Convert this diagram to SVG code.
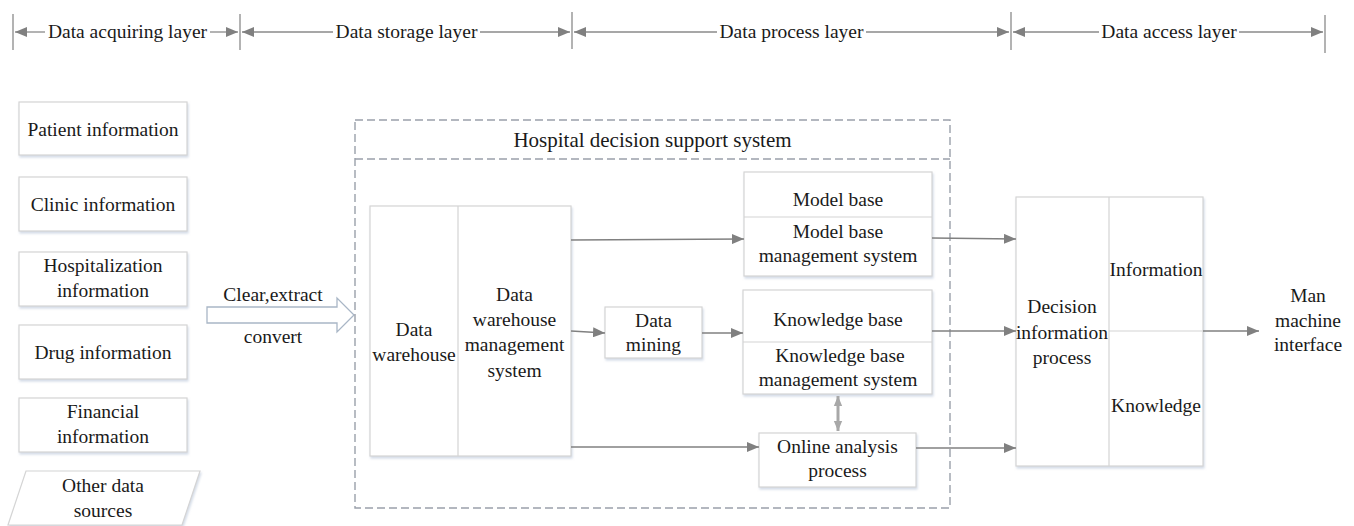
<svg xmlns="http://www.w3.org/2000/svg" width="1354" height="526" viewBox="0 0 1354 526">
<defs>
<marker id="ah" viewBox="0 0 12 10" refX="12" refY="5" markerWidth="12" markerHeight="10" markerUnits="userSpaceOnUse" orient="auto-start-reverse"><path d="M0,0 L12,5 L0,10 z" fill="#808080"/></marker>
<marker id="ahl" viewBox="0 0 12 10" refX="12" refY="5" markerWidth="10" markerHeight="10" markerUnits="userSpaceOnUse" orient="auto-start-reverse"><path d="M0,0 L12,5 L0,10 z" fill="#a8a8a8"/></marker>
<filter id="sh" x="-5%" y="-5%" width="115%" height="120%"><feDropShadow dx="1" dy="2" stdDeviation="1.2" flood-color="#b8c4d8" flood-opacity="0.6"/></filter>
</defs>
<style>
text{font-family:'Liberation Serif','DejaVu Serif',serif;font-size:19.5px;fill:#1a1a1a;text-anchor:middle}
.box{fill:#fff;stroke:#d4d4d4;stroke-width:1.2;filter:url(#sh)}
.div{stroke:#d4d4d4;stroke-width:1.2;fill:none}
.con{stroke:#808080;stroke-width:1.6;fill:none;marker-end:url(#ah)}
.hl{stroke:#8a8a8a;stroke-width:1.3;fill:none}
.tick{stroke:#8a8a8a;stroke-width:1.3}
.dash{fill:none;stroke:#9aa0aa;stroke-width:1.4;stroke-dasharray:8 4}
.title{font-size:21px}
</style>
<rect width="1354" height="526" fill="#fff"/>
<g font-family="Liberation Serif, DejaVu Serif, serif">
<g id="layers">
<line class="tick" x1="13" y1="14" x2="13" y2="50"/>
<line class="tick" x1="240" y1="14" x2="240" y2="50"/>
<line class="tick" x1="572" y1="12" x2="572" y2="49"/>
<line class="tick" x1="1011" y1="12" x2="1011" y2="50"/>
<line class="tick" x1="1325" y1="15" x2="1325" y2="53"/>
<line class="hl" x1="45" y1="32" x2="15" y2="32" marker-end="url(#ah)"/>
<line class="hl" x1="210" y1="32" x2="238" y2="32" marker-end="url(#ah)"/>
<line class="hl" x1="333" y1="32" x2="242" y2="32" marker-end="url(#ah)"/>
<line class="hl" x1="480" y1="32" x2="570" y2="32" marker-end="url(#ah)"/>
<line class="hl" x1="717" y1="32" x2="574" y2="32" marker-end="url(#ah)"/>
<line class="hl" x1="866" y1="32" x2="1009" y2="32" marker-end="url(#ah)"/>
<line class="hl" x1="1099" y1="32" x2="1013" y2="32" marker-end="url(#ah)"/>
<line class="hl" x1="1239" y1="32" x2="1323" y2="32" marker-end="url(#ah)"/>
<text x="127.5" y="38">Data acquiring layer</text>
<text x="406.5" y="38">Data storage layer</text>
<text x="791.5" y="38">Data process layer</text>
<text x="1169" y="38">Data access layer</text>
</g>
<g id="patient"><rect class="box" x="19" y="102" width="168" height="53"/><text x="103" y="136">Patient information</text></g>
<g id="clinic"><rect class="box" x="19" y="177" width="168" height="54"/><text x="103" y="211">Clinic information</text></g>
<g id="hospitalization"><rect class="box" x="19" y="252" width="168" height="54"/><text x="103" y="272">Hospitalization</text><text x="103" y="297">information</text></g>
<g id="drug"><rect class="box" x="19" y="325" width="168" height="54"/><text x="103" y="359">Drug information</text></g>
<g id="financial"><rect class="box" x="19" y="398" width="168" height="54"/><text x="103" y="418">Financial</text><text x="103" y="443">information</text></g>
<g id="other"><path class="box" d="M26,471 L200,471 L182,525 L8,525 z"/><text x="103" y="492">Other data</text><text x="103" y="517">sources</text></g>
<g id="etl"><path d="M207,307 L337,307 L337,298 L354,315 L337,332 L337,323 L207,323 z" fill="#fff" stroke="#a9b6c6" stroke-width="1.3"/><text x="273" y="301">Clear,extract</text><text x="273" y="343">convert</text></g>
<g id="hdss"><rect class="dash" x="355" y="120" width="595" height="388"/><line class="dash" x1="355" y1="159" x2="950" y2="159"/><text class="title" x="652.5" y="147">Hospital decision support system</text></g>
<g id="warehouse"><rect class="box" x="370" y="206" width="201" height="250"/><line class="div" x1="458" y1="206" x2="458" y2="456"/>
<text x="414" y="336">Data</text><text x="414" y="361">warehouse</text>
<text x="514.5" y="301">Data</text><text x="514.5" y="326">warehouse</text><text x="514.5" y="351">management</text><text x="514.5" y="377">system</text></g>
<g id="mining"><rect class="box" x="605" y="307" width="97" height="51"/><text x="653.5" y="327">Data</text><text x="653.5" y="351">mining</text></g>
<g id="model"><rect class="box" x="744" y="172" width="188" height="104"/><line class="div" x1="744" y1="217" x2="932" y2="217"/><text x="838" y="206">Model base</text><text x="838" y="238">Model base</text><text x="838" y="262">management system</text></g>
<g id="knowledge"><rect class="box" x="743" y="290" width="189" height="104"/><line class="div" x1="743" y1="342" x2="932" y2="342"/><text x="838" y="326">Knowledge base</text><text x="840" y="362">Knowledge base</text><text x="838" y="386">management system</text></g>
<g id="olap"><rect class="box" x="759" y="433" width="157" height="54"/><text x="837.5" y="453">Online analysis</text><text x="837.5" y="477">process</text></g>
<g id="decision"><rect class="box" x="1016" y="197" width="187" height="269"/><line class="div" x1="1109" y1="197" x2="1109" y2="466"/><line class="div" x1="1109" y1="331" x2="1203" y2="331"/>
<text x="1062" y="313">Decision</text><text x="1062" y="339">information</text><text x="1062" y="364">process</text>
<text x="1156" y="276">Information</text><text x="1156" y="412">Knowledge</text></g>
<g id="hmi"><text x="1308" y="302">Man</text><text x="1308" y="327">machine</text><text x="1308" y="351">interface</text></g>
</g>
<g id="connectors">
<line class="con" x1="571" y1="240" x2="744" y2="239"/>
<line class="con" x1="571" y1="331" x2="605" y2="333"/>
<line class="con" x1="702" y1="333" x2="743" y2="333"/>
<line class="con" x1="571" y1="447" x2="759" y2="447"/>
<line x1="838" y1="396" x2="838" y2="431" stroke="#a8a8a8" stroke-width="3" marker-start="url(#ahl)" marker-end="url(#ahl)"/>
<line class="con" x1="932" y1="238" x2="1016" y2="239"/>
<line class="con" x1="932" y1="331" x2="1016" y2="331"/>
<line class="con" x1="916" y1="448" x2="1016" y2="448"/>
<line class="con" x1="1203" y1="331" x2="1259" y2="331"/>
</g>
</svg>
